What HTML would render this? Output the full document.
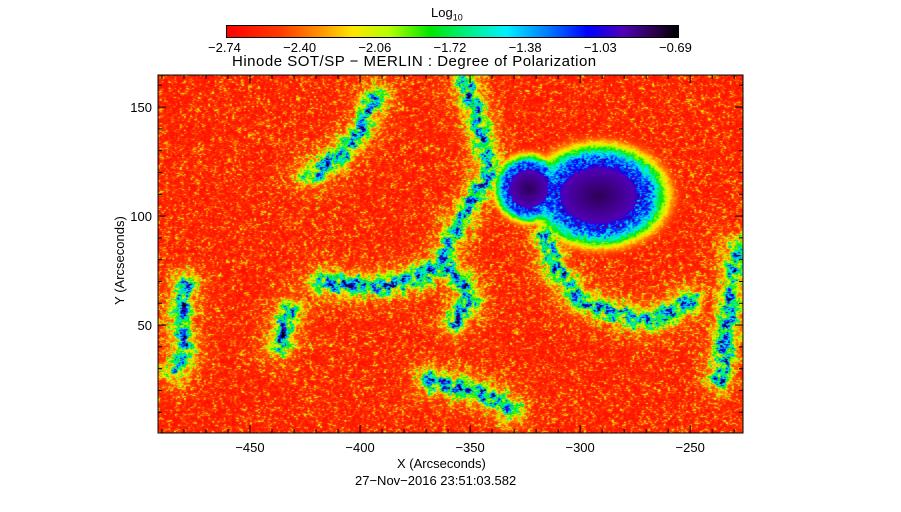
<!DOCTYPE html>
<html><head><meta charset="utf-8"><style>
body{margin:0;background:#fff;width:901px;height:512px;overflow:hidden;position:relative;font-family:"Liberation Sans",sans-serif;color:#000}
.t{position:absolute;font-size:13px;white-space:nowrap}
</style></head><body>
<div class="t" style="left:431px;top:5px">Log<sub style="font-size:9px">10</sub></div>
<div id="cbar" style="position:absolute;left:226px;top:25px;width:451px;height:11px;border:1px solid #000"></div>
<div id="cbt"></div>
<div class="t" style="left:232px;top:53px;font-size:15px;letter-spacing:0.5px">Hinode SOT/SP − MERLIN : Degree of Polarization</div>
<canvas id="c" width="585" height="358" style="position:absolute;left:158px;top:75px"></canvas>
<svg id="ax" width="901" height="512" style="position:absolute;left:0;top:0"></svg>
<div class="t" style="left:397px;top:456px">X (Arcseconds)</div>
<div class="t" style="left:355px;top:473px">27−Nov−2016 23:51:03.582</div>
<div class="t" style="left:75px;top:253px;transform:rotate(-90deg);transform-origin:center">Y (Arcseconds)</div>
<script>
const cbTicks=["−2.74","−2.40","−2.06","−1.72","−1.38","−1.03","−0.69"];
const xTicks=[-450,-400,-350,-300,-250];
const yTicks=[50,100,150];
const xRange=[-491.8,-226];
const yRange=[0.5,164.7];
const spotX=[-323.6,-291.8];
const spotY=[112.8,109.6];
const spotRX=[8,16];
const spotRY=[8,12];
const strandX=[[-352.3,-345.5,-340.9,-350,-359,-363.6,-372.7,-386.4,-404.5,-418],[-363.6,-354.5,-350,-356.8],[-316,-311.4,-300,-281.8,-268,-250],[-393.2,-400,-411.4,-422.7],[-479.5,-481.8,-479.5,-484],[-431.8,-436.4],[-368.2,-359,-336.4,-331.8],[-236.4,-229.5]];
const strandY=[[162.4,139.4,121.1,105,89,77.5,72.9,68.3,68.3,69.7],[77.5,70.6,61.5,52.3],[91.3,75.2,61.5,54.6,52.3,61.5],[155.5,139.4,125.7,118.8],[68.3,52.3,38.5,29.4],[56.9,40.8],[24.8,22.5,15.6,11],[24.8,84.4]];
const stops=[[0,255,0,0],[0.12,255,60,0],[0.2,255,140,0],[0.28,255,230,0],[0.36,180,255,0],[0.45,0,230,0],[0.55,0,240,160],[0.62,0,240,255],[0.72,0,110,255],[0.8,0,0,255],[0.88,80,0,180],[0.95,40,0,70],[1,0,0,0]];
const L=158,T=75,W=585,H=358;
const sx=x=>L+(x-xRange[0])/(xRange[1]-xRange[0])*W;
const sy=y=>T+H-(y-yRange[0])/(yRange[1]-yRange[0])*H;
const ix=p=>xRange[0]+(p)/W*(xRange[1]-xRange[0]);
const iy=p=>yRange[0]+(H-p)/H*(yRange[1]-yRange[0]);
document.getElementById('cbar').style.background='linear-gradient(to right,'+stops.map(s=>`rgb(${s[1]},${s[2]},${s[3]}) ${s[0]*100}%`).join(',')+')';
const cbt=document.getElementById('cbt');
cbTicks.forEach((t,i)=>{const d=document.createElement('div');d.className='t';


d.style.left=(226+i*451/6-18)+'px';d.style.top='40px';d.textContent=t;cbt.appendChild(d);});
function col(t){t=Math.max(0,Math.min(1,t));for(let i=1;i<stops.length;i++){if(t<=stops[i][0]){const a=stops[i-1],b=stops[i],f=(t-a[0])/(b[0]-a[0]);return[a[1]+f*(b[1]-a[1]),a[2]+f*(b[2]-a[2]),a[3]+f*(b[3]-a[3])];}}return[0,0,0];}
function h(i,j){let n=(i*374761393+j*668265263)|0;n=(n^(n>>>13))*1274126177|0;return((n^(n>>>16))>>>0)/4294967296;}
function vn(x,y){const i=Math.floor(x),j=Math.floor(y),fx=x-i,fy=y-j,u=fx*fx*(3-2*fx),v=fy*fy*(3-2*fy);
return (h(i,j)*(1-u)+h(i+1,j)*u)*(1-v)+(h(i,j+1)*(1-u)+h(i+1,j+1)*u)*v;}
function segd(px,py,ax,ay,bx,by){const dx=bx-ax,dy=by-ay,l=dx*dx+dy*dy;let t=l?((px-ax)*dx+(py-ay)*dy)/l:0;t=Math.max(0,Math.min(1,t));const qx=ax+t*dx-px,qy=ay+t*dy-py;return Math.sqrt(qx*qx+qy*qy);}
const ctx=document.getElementById('c').getContext('2d');
const img=ctx.createImageData(W,H);
for(let py=0;py<H;py++){for(let px=0;px<W;px++){
 const X=ix(px),Y=iy(py);
 const n=0.55*vn(px/2.2,py/2.2)+0.45*h(px>>1,py);
 let t=0.03+0.4*Math.pow(n,3.2);
 let d=1e9;
 for(let s=0;s<strandX.length;s++){const a=strandX[s],b=strandY[s];
  for(let k=0;k<a.length-1;k++)d=Math.min(d,segd(X,Y,a[k],b[k],a[k+1],b[k+1]));}
 const m=vn(px/5+40,py/5+40);
 let add=(0.55*Math.exp(-(d/4)*(d/4))+0.22*Math.exp(-(d/9)*(d/9)))*(0.3+1.0*m)*(0.6+0.6*n);
 let sp=0;
 for(let s=0;s<spotX.length;s++){const r=Math.hypot((X-spotX[s])/spotRX[s],(Y-spotY[s])/spotRY[s]);
  let v;if(r<1)v=0.88+0.06*(1-r);else if(r<1.3)v=0.88-(r-1)*0.3;else v=0.79*Math.exp(-(r-1.3)*(r-1.3)/0.5);
  sp=Math.max(sp,v);}
 if(sp<0.85)sp*=(0.7+0.5*n);
 t=Math.max(t+add,sp);
 const c=col(t),o=(py*W+px)*4;img.data[o]=c[0];img.data[o+1]=c[1];img.data[o+2]=c[2];img.data[o+3]=255;}}
ctx.putImageData(img,0,0);
const ax=document.getElementById('ax');const NS='http://www.w3.org/2000/svg';
function ln(x1,y1,x2,y2,n){const e=document.createElementNS(NS,'line');e.setAttribute('x1',x1);e.setAttribute('y1',y1);e.setAttribute('x2',x2);e.setAttribute('y2',y2);e.setAttribute('stroke','#000');e.setAttribute('stroke-width','1');


ax.appendChild(e);}
const fr=document.createElementNS(NS,'rect');fr.setAttribute('x',L);fr.setAttribute('y',T);fr.setAttribute('width',W);fr.setAttribute('height',H);fr.setAttribute('fill','none');fr.setAttribute('stroke','#000');


ax.appendChild(fr);
for(let v=-490;v<=-230;v+=10){const x=sx(v),m=v%50==0?8:4;ln(x,T+H,x,T+H-m,'x-tick');ln(x,T,x,T+m,'x-tick-top');}
for(let v=10;v<=160;v+=10){const y=sy(v),m=v%50==0?8:4;ln(L,y,L+m,y,'y-tick');ln(L+W,y,L+W-m,y,'y-tick-right');}
function tx(x,y,s,a,n){const e=document.createElementNS(NS,'text');e.setAttribute('x',x);e.setAttribute('y',y);e.setAttribute('text-anchor',a);e.setAttribute('font-size','13');e.setAttribute('font-family','Liberation Sans,sans-serif');e.textContent=s;


ax.appendChild(e);}
xTicks.forEach(v=>tx(sx(v),452,'−'+Math.abs(v),'middle','x-tick-label'));
yTicks.forEach(v=>tx(L-6,sy(v)+5,String(v),'end','y-tick-label'));
</script>
</body></html>
